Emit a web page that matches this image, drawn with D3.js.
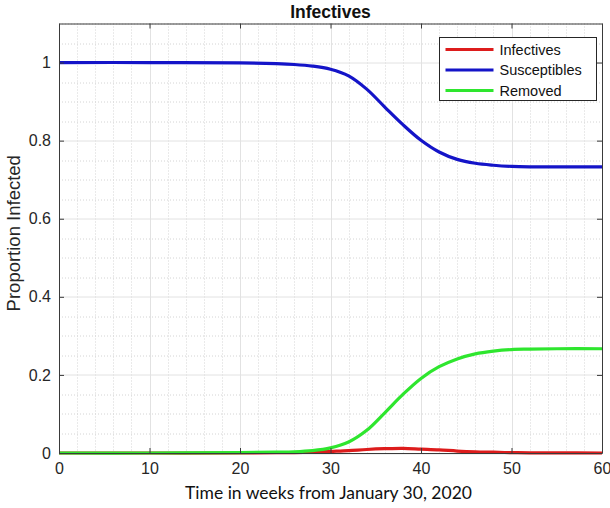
<!DOCTYPE html>
<html>
<head>
<meta charset="utf-8">
<script src="https://cdn.jsdelivr.net/npm/d3@7"></script>
<style>
  html, body { margin: 0; padding: 0; background: #fff; }
  svg { display: block; }
</style>
</head>
<body>
<svg id="chart" width="610" height="508"></svg>
<script>
// values
const weeks        = [0, 10, 20, 24, 26, 28, 30, 32, 34, 36, 38, 40, 42, 44, 46, 48, 50, 52, 55, 60];
const susceptibles = [1, 1, 0.999, 0.997, 0.995, 0.991, 0.983, 0.966, 0.932, 0.886, 0.841, 0.801, 0.771, 0.752, 0.742, 0.737, 0.734, 0.733, 0.733, 0.733];
const infectives   = [0, 0, 0, 0.001, 0.001, 0.002, 0.004, 0.006, 0.009, 0.011, 0.012, 0.010, 0.008, 0.005, 0.003, 0.002, 0.001, 0.0005, 0.0002, 0];
const removed      = [0, 0, 0.001, 0.002, 0.003, 0.006, 0.013, 0.028, 0.058, 0.103, 0.150, 0.191, 0.221, 0.241, 0.254, 0.261, 0.265, 0.266, 0.267, 0.267];

const xTicks = [0, 10, 20, 30, 40, 50, 60];
const yTicks = [0, 0.2, 0.4, 0.6, 0.8, 1];
const xMinor = d3.range(0, 61, 2);
const yMinor = d3.range(0, 1.1001, 0.05);

const seriesNames = ['Infectives', 'Susceptibles', 'Removed'];
const seriesColors = ['#dd1c1c', '#1414c8', '#2ee62e'];
const seriesValues = [infectives, susceptibles, removed];

const W = 610, H = 508;
const m = { left: 59, right: 8, top: 23.5, bottom: 55 };
const iw = W - m.left - m.right;
const ih = H - m.top - m.bottom;

const svg = d3.select('#chart');
const g = svg.append('g').attr('transform', `translate(${m.left},${m.top})`);

const x = d3.scaleLinear().domain([0, 60]).range([0, iw]);
const y = d3.scaleLinear().domain([0, 1.1]).range([ih, 0]);

// minor grid (dotted)
const grid = g.append('g');
grid.selectAll('.vmin').data(xMinor.filter(d => d % 10 !== 0)).join('line')
    .attr('x1', d => Math.round(x(d)) + 0.5).attr('x2', d => Math.round(x(d)) + 0.5)
    .attr('y1', 0).attr('y2', ih)
    .attr('stroke', '#d4d4d4').attr('stroke-dasharray', '1,2');
grid.selectAll('.hmin').data(yMinor.filter((d, i) => i % 4 !== 0)).join('line')
    .attr('y1', d => Math.round(y(d)) + 0.5).attr('y2', d => Math.round(y(d)) + 0.5)
    .attr('x1', 0).attr('x2', iw)
    .attr('stroke', '#d4d4d4').attr('stroke-dasharray', '1,2');

// major grid
grid.selectAll('.vmaj').data(xTicks).join('line')
    .attr('x1', d => Math.round(x(d)) + 0.5).attr('x2', d => Math.round(x(d)) + 0.5)
    .attr('y1', 0).attr('y2', ih)
    .attr('stroke', '#e2e2e2');
grid.selectAll('.hmaj').data(yTicks).join('line')
    .attr('y1', d => Math.round(y(d)) + 0.5).attr('y2', d => Math.round(y(d)) + 0.5)
    .attr('x1', 0).attr('x2', iw)
    .attr('stroke', '#e2e2e2');

// curves
const line = d3.line()
    .x(d => x(d[0]))
    .y(d => y(d[1]))
    .curve(d3.curveCatmullRom.alpha(0.5));

seriesValues.forEach((vals, i) => {
    g.append('path')
        .datum(weeks.map((w, j) => [w, vals[j]]))
        .attr('d', line)
        .attr('fill', 'none')
        .attr('stroke', seriesColors[i])
        .attr('stroke-width', 3.2)
        .attr('stroke-linejoin', 'round');
});

// axes (ticks pointing inward, box on)
const axisColor = '#3a3a3a';
const fontTick = '16px "Liberation Sans", Arial, sans-serif';

const xAxis = g.append('g').attr('transform', `translate(0,${ih})`)
    .call(d3.axisBottom(x).tickValues(xTicks).tickFormat(d3.format('d'))
        .tickSizeInner(-5).tickSizeOuter(0).tickPadding(7));
const yAxis = g.append('g')
    .call(d3.axisLeft(y).tickValues(yTicks).tickFormat(d => d3.format('~g')(d))
        .tickSizeInner(-5).tickSizeOuter(0).tickPadding(8));
const xTop = g.append('g')
    .call(d3.axisTop(x).tickValues(xTicks).tickFormat('').tickSizeInner(-5).tickSizeOuter(0));
const yRight = g.append('g').attr('transform', `translate(${iw},0)`)
    .call(d3.axisRight(y).tickValues(yTicks).tickFormat('').tickSizeInner(-5).tickSizeOuter(0));

[xAxis, yAxis, xTop, yRight].forEach(a => {
    a.selectAll('path').attr('stroke', axisColor);
    a.selectAll('line').attr('stroke', axisColor);
    a.selectAll('text').style('font', fontTick).attr('fill', '#262626');
});
xAxis.selectAll('text').attr('dy', '0.9em');

// title and axis labels
svg.append('text')
    .attr('x', m.left + iw / 2).attr('y', 18)
    .attr('text-anchor', 'middle')
    .style('font', 'bold 17.5px "Liberation Sans", Arial, sans-serif')
    .attr('fill', '#111')
    .text('Infectives');

svg.append('text')
    .attr('x', m.left + iw / 2 - 2).attr('y', 499)
    .attr('text-anchor', 'middle')
    .style('font', '17.5px Lato, "Open Sans", sans-serif')
    .attr('fill', '#111')
    .text('Time in weeks from January 30, 2020');

svg.append('text')
    .attr('transform', `translate(20,${m.top + y(0.55) - 5}) rotate(-90)`)
    .attr('text-anchor', 'middle')
    .style('font', '18.5px "Liberation Sans", Arial, sans-serif')
    .attr('fill', '#262626')
    .text('Proportion Infected');

// legend
const lg = svg.append('g').attr('transform', 'translate(439.5,37.5)');
lg.append('rect')
    .attr('width', 157).attr('height', 63)
    .attr('fill', '#fff').attr('stroke', '#262626');
seriesNames.forEach((name, i) => {
    const ry = 12 + i * 20.5;
    lg.append('line')
        .attr('x1', 6).attr('x2', 54).attr('y1', ry).attr('y2', ry)
        .attr('stroke', seriesColors[i]).attr('stroke-width', 3);
    lg.append('text')
        .attr('x', 60).attr('y', ry).attr('dy', '0.35em')
        .style('font', '14.5px "Liberation Sans", Arial, sans-serif')
        .attr('fill', '#111')
        .text(name);
});
</script>
</body>
</html>
